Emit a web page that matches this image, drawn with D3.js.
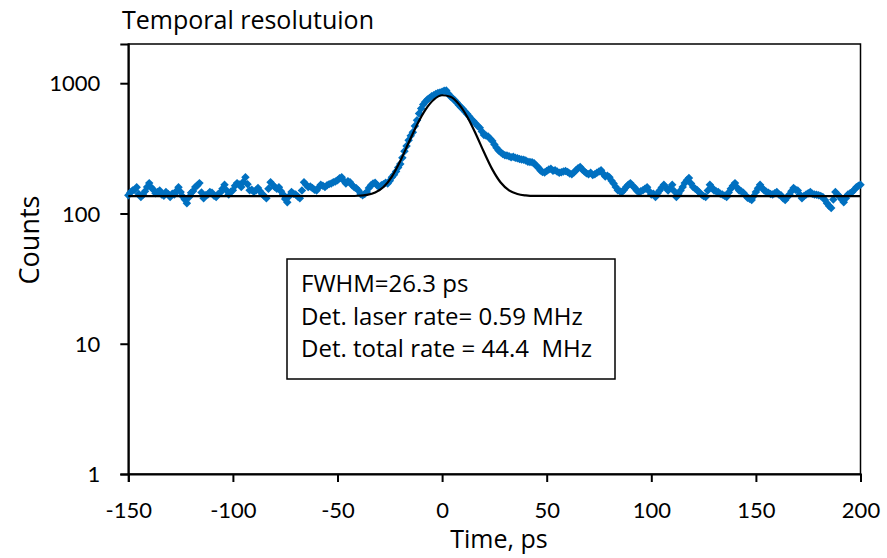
<!DOCTYPE html>
<html>
<head>
<meta charset="utf-8">
<script src="https://cdn.jsdelivr.net/npm/d3@7"></script>
<style>
  html, body { margin: 0; padding: 0; background: #fff; }
  svg { display: block; }
  text { font-family: "Open Sans", Lato, sans-serif; fill: #000; }
</style>
</head>
<body>
<svg id="chart" width="887" height="558"></svg>
<script>
// ---- data ----
const timeStart = -150, timeStep = 1;
const counts = [
  138,145,150,152,159,141,134,139,148,160,171,158,152,143,146,150,140,137,146,141,
  134,142,140,149,159,146,135,128,120,133,144,149,160,164,171,145,131,138,140,146,
  144,137,134,141,145,155,166,150,140,147,151,163,171,167,160,175,190,168,151,152,
  147,150,157,148,141,136,131,155,174,166,160,155,159,148,140,129,122,136,146,142,
  140,135,131,150,174,166,160,161,157,152,150,158,166,163,160,165,168,170,174,176,
  180,186,190,178,170,177,174,165,159,156,150,141,138,141,146,157,165,170,172,164,
  160,165,168,172,170,178,190,198,210,225,240,268,300,330,365,395,420,470,520,585,
  640,685,720,750,770,795,810,825,840,850,860,875,880,830,790,765,740,710,680,655,
  630,605,580,555,530,510,490,470,455,425,400,396,390,375,360,338,320,305,295,286,
  280,279,275,270,272,268,265,262,260,259,255,250,248,247,243,232,225,214,208,206,
  212,218,220,213,215,210,205,207,210,212,208,203,200,206,215,222,227,218,210,204,
  200,205,197,200,205,210,215,202,192,195,190,178,170,160,151,148,146,152,160,166,
  171,163,158,150,146,148,151,155,159,148,140,142,134,143,150,158,166,158,150,157,
  166,148,134,142,150,160,171,180,187,170,160,155,151,145,140,136,134,150,166,158,
  150,148,146,142,140,137,134,145,155,163,171,158,150,148,144,138,132,130,127,136,
  146,156,166,157,150,147,144,141,140,143,146,140,138,131,127,133,140,148,157,152,
  150,140,131,136,140,143,146,142,140,139,138,136,134,127,120,114,110,128,146,140,
  135,128,122,131,140,143,146,152,159,163,166
];
const times = counts.map((_, i) => timeStart + i * timeStep);

const fitTime   = [-150,-44,-40,-36,-32,-28,-24,-20,-16,-12,-8,-4,0,4,8,12,16,20,24,28,32,36,40,44,200];
const fitCounts = [136,136.2,136.8,138.9,144.8,159.6,191.9,252.4,349.3,480.2,624.8,747,808.3,787.2,691.3,552.8,411.3,296.1,218,172.9,150.6,141.1,137.6,136.3,136];

const xTicks = [-150,-100,-50,0,50,100,150,200];
const yTicks = [1,10,100,1000];
const titleText = "Temporal resolutuion";
const xTitle = "Time, ps";
const yTitle = "Counts";
const noteLines = ["FWHM=26.3 ps", "Det. laser rate= 0.59 MHz", "Det. total rate = 44.4  MHz"];

// ---- layout ----
const svg = d3.select("#chart");
const L = 128.3, R = 860.5, T = 44, B = 474;
const x = d3.scaleLinear().domain([-150, 200]).range([L, R]);
const y = d3.scaleLog().domain([1, 2000]).range([B, T]);
const fmt = d => String(d);

// plot frame
svg.append("rect").attr("x", L).attr("y", T).attr("width", R - L).attr("height", B - T)
  .attr("fill", "none").attr("stroke", "#000").attr("stroke-width", 1.5);

// axes
const xAxis = svg.append("g").attr("transform", `translate(0,${B})`)
  .call(d3.axisBottom(x).tickValues(xTicks).tickSize(8).tickFormat(fmt));
const yAxis = svg.append("g").attr("transform", `translate(${L},0)`)
  .call(d3.axisLeft(y).tickValues(yTicks).tickSize(8).tickFormat(fmt));
[xAxis, yAxis].forEach(g => {
  g.select(".domain").attr("stroke", "#000").attr("stroke-width", 2);
  g.selectAll(".tick line").attr("stroke", "#000").attr("stroke-width", 2);
  g.selectAll(".tick text").style("font-family", "Lato, sans-serif").style("font-size", "22px").attr("fill", "#000");
});
xAxis.selectAll(".tick text").attr("dy", "0.71em").attr("y", 28);
yAxis.selectAll(".tick text").attr("x", -28).attr("dy", "0.35em");

// clip
svg.append("clipPath").attr("id", "clip").append("rect")
  .attr("x", L - 6).attr("y", T).attr("width", R - L + 12).attr("height", B - T);

// data markers
const diamond = d3.symbol().type(d3.symbolDiamond2).size(46);
svg.append("g").attr("clip-path", "url(#clip)")
  .selectAll("path").data(times.map((t, i) => [t, counts[i]])).join("path")
  .attr("d", diamond)
  .attr("transform", d => `translate(${x(d[0])},${y(d[1])})`)
  .attr("fill", "#0070C0");

// fit line
const line = d3.line().x(d => x(d[0])).y(d => y(d[1])).curve(d3.curveMonotoneX);
svg.append("path").datum(fitTime.map((t, i) => [t, fitCounts[i]]))
  .attr("d", line).attr("fill", "none").attr("stroke", "#000").attr("stroke-width", 2.2);

// titles
svg.append("text").attr("x", 122).attr("y", 29).style("font-size", "25px").text(titleText);
svg.append("text").attr("x", 499).attr("y", 548).attr("text-anchor", "middle")
  .style("font-size", "25px").text(xTitle);
svg.append("text").attr("transform", "translate(39,240) rotate(-90)").attr("text-anchor", "middle")
  .style("font-size", "27px").text(yTitle);

// note box
svg.append("rect").attr("x", 287).attr("y", 259).attr("width", 328).attr("height", 120)
  .attr("fill", "#fff").attr("stroke", "#000").attr("stroke-width", 1.5);
noteLines.forEach((s, i) => {
  svg.append("text").attr("x", 301).attr("y", 292 + i * 32.5)
    .attr("xml:space", "preserve").style("white-space", "pre")
    .style("font-size", "24px").text(s);
});
</script>
</body>
</html>
